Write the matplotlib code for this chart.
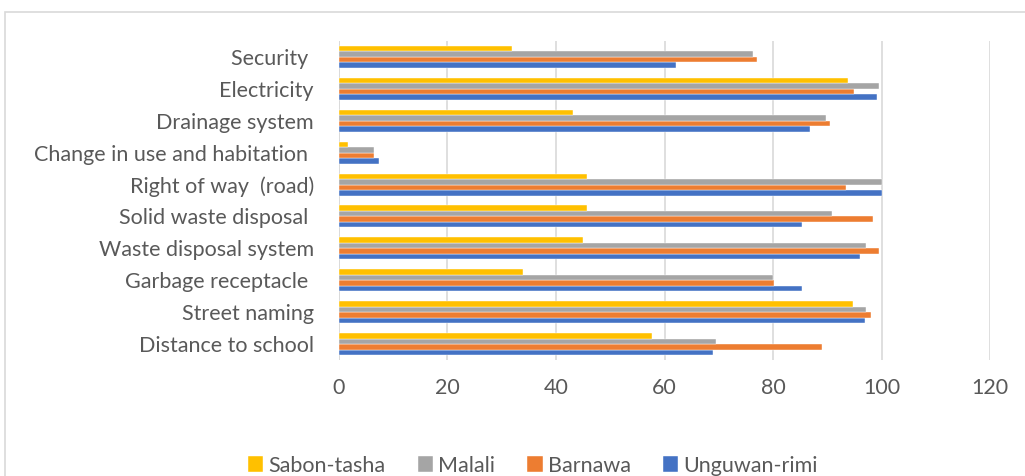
import matplotlib.pyplot as plt
import numpy as np
from matplotlib.patches import Rectangle

# categories listed bottom to top, as Excel draws them
categories = ['Distance to school', 'Street naming', 'Garbage receptacle ',
              'Waste disposal system', 'Solid waste disposal ', 'Right of way  (road)',
              'Change in use and habitation ', 'Drainage system', 'Electricity', 'Security ']
unguwan_rimi = [69.0, 97.0, 85.3, 96.0, 85.3, 100.0, 7.4, 86.8, 99.1, 62.1]
barnawa = [89.0, 98.0, 80.1, 99.6, 98.5, 93.4, 6.4, 90.4, 95.0, 77.1]
malali = [69.4, 97.2, 79.9, 97.2, 90.8, 100.0, 6.4, 89.8, 99.5, 76.3]
sabon_tasha = [57.7, 94.8, 33.9, 45.0, 45.7, 45.7, 1.6, 43.2, 93.8, 31.8]

series = [('Unguwan-rimi', unguwan_rimi, '#4472c4'),
          ('Barnawa', barnawa, '#ed7d31'),
          ('Malali', malali, '#a5a5a5'),
          ('Sabon-tasha', sabon_tasha, '#ffc000')]

plt.rcParams['font.family'] = ['Lato', 'DejaVu Sans']
fig = plt.figure(figsize=(10.25, 4.76), dpi=100)
ax = fig.add_axes([0.3307, 0.2437, 0.6353, 0.6702])

y = np.arange(len(categories))
h = 0.172
for i, (name, vals, col) in enumerate(series):
    ax.barh(y + (i - 1.5) * h, vals, height=h, color=col, label=name,
            edgecolor='white', linewidth=0.3, zorder=3)

ax.set_xlim(0, 120)
ax.set_ylim(-0.5, len(categories) - 0.5)
ax.set_xticks(range(0, 121, 20))
ax.set_yticks(y)
ax.set_yticklabels(categories)
ax.grid(axis='x', color='#d9d9d9', linewidth=1.2, zorder=0)
ax.axvline(0, color='#d9d9d9', linewidth=1.2, zorder=1)
for s in ax.spines.values():
    s.set_visible(False)
ax.tick_params(length=0, labelsize=15.5, labelcolor='#595959')
ax.tick_params(axis='x', pad=13)
ax.tick_params(axis='y', pad=18)

handles, labels = ax.get_legend_handles_labels()
fig.legend(handles[::-1], labels[::-1], loc='center', bbox_to_anchor=(0.52, 0.022),
           ncol=4, frameon=False, fontsize=15.5, labelcolor='#595959',
           handlelength=0.7, handleheight=0.7, handletextpad=0.25, columnspacing=1.5)

fig.patches.append(Rectangle((0.005, -0.2), 1.2, 0.2 + 0.975, transform=fig.transFigure,
                             fill=False, edgecolor='#d9d9d9', linewidth=1.2))

fig.savefig('out.png', dpi=100)
